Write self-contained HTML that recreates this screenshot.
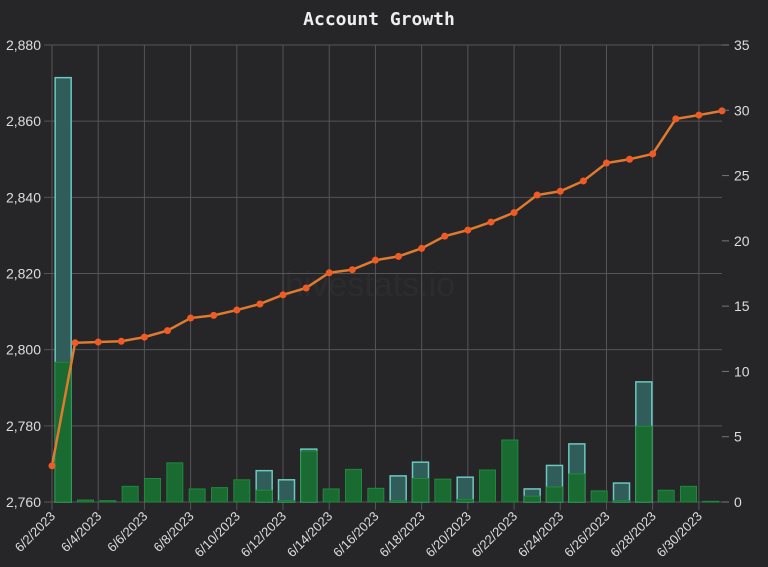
<!DOCTYPE html>
<html><head><meta charset="utf-8"><style>
html,body{margin:0;padding:0;background:#262628;}
svg{display:block;font-family:"Liberation Sans",sans-serif;}
</style></head><body>
<svg id="chart" width="768" height="567" viewBox="0 0 768 567" xmlns="http://www.w3.org/2000/svg">
<rect width="768" height="567" fill="#262628"/>
<text x="379" y="25" text-anchor="middle" fill="#eeeeee" font-family="'DejaVu Sans Mono','Liberation Mono',monospace" font-weight="bold" font-size="18">Account Growth</text>
<text x="370" y="296" text-anchor="middle" fill="#2c2c2e" font-size="34">hivestats.io</text>
<g id="grid"></g><g id="bars"></g><g id="line"></g><g id="axes"></g>
</svg>
<script>
const dates = ["6/2/2023","6/3/2023","6/4/2023","6/5/2023","6/6/2023","6/7/2023","6/8/2023","6/9/2023","6/10/2023","6/11/2023","6/12/2023","6/13/2023","6/14/2023","6/15/2023","6/16/2023","6/17/2023","6/18/2023","6/19/2023","6/20/2023","6/21/2023","6/22/2023","6/23/2023","6/24/2023","6/25/2023","6/26/2023","6/27/2023","6/28/2023","6/29/2023","6/30/2023","7/1/2023"];
const accountValue = [2769.5,2801.8,2802,2802.2,2803.3,2805,2808.3,2809,2810.4,2812,2814.4,2816.2,2820.2,2821,2823.5,2824.5,2826.6,2829.8,2831.4,2833.5,2836,2840.6,2841.6,2844.3,2849,2850,2851.4,2860.6,2861.6,2862.7];
const greenBars = [10.7,0.15,0.1,1.2,1.8,3.0,1.0,1.1,1.7,0.9,0.1,3.9,1.0,2.5,1.05,0.1,1.8,1.75,0.2,2.45,4.75,0.45,1.15,2.15,0.85,0.1,5.8,0.9,1.2,0.05];
const tealBars = [32.5,0,0,0,0,0,0,0,0,2.4,1.7,4.05,0,0,0,2.0,3.05,0,1.9,0,0,1.0,2.8,4.45,0,1.45,9.2,0,0,0];
const leftTicks = [2760,2780,2800,2820,2840,2860,2880];
const leftTickLabels = ["2,760","2,780","2,800","2,820","2,840","2,860","2,880"];
const rightTicks = [0,5,10,15,20,25,30,35];

const NS="http://www.w3.org/2000/svg";
const X0=52,X1=722,Y0=502,Y1=45;
const n=dates.length;
const xLine=i=>X0+(X1-X0)*i/(n-1);
const band=(X1-X0)/n;
const xBand=i=>X0+band*(i+0.5);
const yL=v=>Y0-(v-2760)/(2880-2760)*(Y0-Y1);
const yR=v=>Y0-v/35*(Y0-Y1);
function mk(tag,attrs,parent){const e=document.createElementNS(NS,tag);for(const k in attrs)e.setAttribute(k,attrs[k]);document.getElementById(parent).appendChild(e);return e;}

leftTicks.forEach((t,i)=>{
  const y=yL(t);
  const l=mk('line',{x1:44,x2:X1,y1:y,y2:y,stroke:'#555558','stroke-width':1},'grid');
  
  
  const tx=mk('text',{x:41,y:y+5,'text-anchor':'end',fill:'#dddddd','font-size':14},'axes');
  tx.textContent=leftTickLabels[i];
  
  
});
for(let i=0;i<n;i+=2){
  const x=xLine(i);
  const l=mk('line',{x1:x,x2:x,y1:Y1,y2:Y0+8,stroke:'#555558','stroke-width':1},'grid');
  
  
  if(i<n-1){
    const tx=mk('text',{x:x+4,y:Y0+15,'text-anchor':'end',fill:'#dddddd','font-size':13,transform:`rotate(-45 ${x+4} ${Y0+15})`},'axes');
    tx.textContent=dates[i];
    
    
  }
}
rightTicks.forEach(t=>{
  const y=yR(t);
  const l=mk('line',{x1:X1,x2:X1+7,y1:y,y2:y,stroke:'#777','stroke-width':1},'axes');
  
  
  const tx=mk('text',{x:X1+12,y:y+5,fill:'#dddddd','font-size':14},'axes');
  tx.textContent=String(t);
  
  
});
const bw=16;
tealBars.forEach((v,i)=>{
  if(v<=0)return;
  const y=yR(v);
  const r=mk('rect',{x:xBand(i)-bw/2,y:y,width:bw,height:Y0-y,fill:'#305c5a',stroke:'#6cc8c0','stroke-width':1.5},'bars');
  
  
});
greenBars.forEach((v,i)=>{
  const y=yR(v);
  const r=mk('rect',{x:xBand(i)-bw/2,y:y,width:bw,height:Y0-y,fill:'#1a6b32',stroke:'#1f8a3c','stroke-width':1},'bars');
  
  
});
const pts=accountValue.map((v,i)=>xLine(i)+','+yL(v)).join(' ');
const pl=mk('polyline',{points:pts,fill:'none',stroke:'#e07a30','stroke-width':2.5},'line');


accountValue.forEach((v,i)=>{
  const c=mk('circle',{cx:xLine(i),cy:yL(v),r:3.5,fill:'#f05a24'},'line');
  
  
});
</script>
</body></html>
